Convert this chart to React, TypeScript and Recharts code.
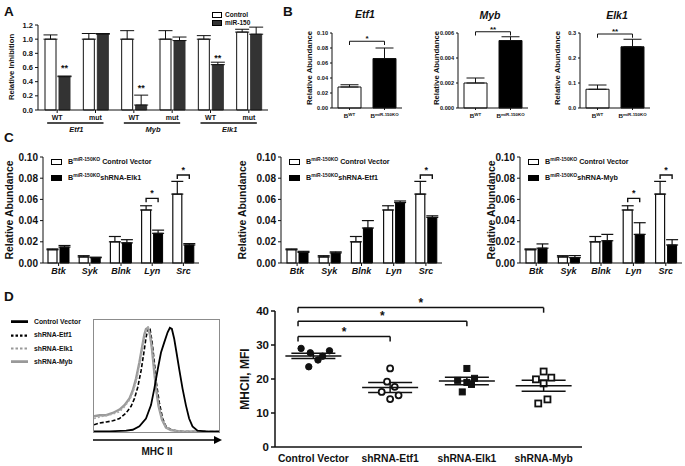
import React from 'react'
import {
  Bar,
  BarChart,
  Cell,
  ErrorBar,
  LabelList,
  Line,
  LineChart,
  ReferenceLine,
  Scatter,
  ScatterChart,
  XAxis,
  YAxis,
} from 'recharts'

const FONT = '"Liberation Sans", Arial, sans-serif'
const INK = '#111'

// ---------- A: reporter assay ----------
const aGenes = ['Etf1', 'Etf1', 'Myb', 'Myb', 'Elk1', 'Elk1']
const aSites = ['WT', 'mut', 'WT', 'mut', 'WT', 'mut']
const aControl = [1.0, 1.0, 1.0, 1.0, 1.0, 1.1]
const aControlErr = [0.06, 0.08, 0.12, 0.12, 0.05, 0.04]
const aMir = [0.47, 1.07, 0.07, 0.98, 0.64, 1.07]
const aMirErr = [0.01, 0.01, 0.14, 0.05, 0.035, 0.1]
const aStars = ['**', '', '**', '', '**', '']
const aStarLevel = [0.55, 0, 0.27, 0, 0.69, 0]
const aTicks = [0, 0.2, 0.4, 0.6, 0.8, 1.0, 1.2]

// ---------- B: WT vs KO ----------
const bGroups = ['WT', 'miR-150KO']
const bEtf1 = [0.028, 0.066]
const bEtf1Err = [0.003, 0.014]
const bMyb = [0.002, 0.0054]
const bMybErr = [0.0004, 0.0003]
const bElk1 = [0.075, 0.245]
const bElk1Err = [0.017, 0.03]
const bEtf1Ticks = [0, 0.02, 0.04, 0.06, 0.08, 0.1]
const bMybTicks = [0, 0.002, 0.004, 0.006]
const bElk1Ticks = [0, 0.1, 0.2, 0.3]

// ---------- C: target genes ----------
const cGenes = ['Btk', 'Syk', 'Blnk', 'Lyn', 'Src']
const cControl = [0.0125, 0.0057, 0.02, 0.05, 0.065]
const cControlErr = [0.0008, 0.0012, 0.005, 0.004, 0.012]
const cElk1 = [0.015, 0.005, 0.019, 0.028, 0.017]
const cElk1Err = [0.0015, 0.0005, 0.003, 0.003, 0.0013]
const cEtf1 = [0.01, 0.0095, 0.033, 0.057, 0.043]
const cEtf1Err = [0.001, 0.001, 0.007, 0.0015, 0.0015]
const cMyb = [0.014, 0.005, 0.021, 0.027, 0.017]
const cMybErr = [0.004, 0.002, 0.006, 0.011, 0.005]
const cElk1Brk = [0, 0, 0, 0.061, 0.083]
const cEtf1Brk = [0, 0, 0, 0, 0.083]
const cMybBrk = [0, 0, 0, 0.061, 0.083]
const cTicks = [0, 0.02, 0.04, 0.06, 0.08, 0.1]

// ---------- D: MHCII ----------
const dGroups = ['Control Vector', 'shRNA-Etf1', 'shRNA-Elk1', 'shRNA-Myb']
const dCtrl = [29.0, 27.7, 23.6, 25.6, 26.7, 28.3]
const dCtrlPos = [0.84, 0.96, 0.94, 1.06, 1.12, 1.21]
const dEtf1 = [23.1, 19.2, 16.2, 17.7, 15.2, 14.1]
const dEtf1Pos = [2.0, 1.96, 1.89, 2.06, 2.11, 2.0]
const dElk1 = [23.1, 19.6, 19.0, 20.2, 18.4, 16.2]
const dElk1Pos = [3.0, 2.88, 3.0, 3.1, 3.06, 2.94]
const dMyb = [22.2, 19.9, 20.4, 18.7, 14.0, 12.8]
const dMybPos = [4.0, 3.9, 4.1, 4.0, 4.05, 3.93]
const dMean = [26.8, 17.5, 19.4, 18.0]
const dSem = [0.8, 1.45, 1.1, 1.6]
const dBrkLevel = [32.5, 37, 41]
const dBrkStart = 0.8
const dTicks = [0, 10, 20, 30, 40]

// flow histogram (x = position along MHC II axis, y = % of box height)
const hCtrlX = [0, 12.5, 25.7, 31, 36.3, 41.6, 45.6, 48.3, 51, 53.6, 56.2, 58.9, 60.7, 62.3, 64.2, 66, 68.2, 70.8, 73.5, 76.1, 78.8, 82.8, 89.4, 100]
const hCtrlY = [0.6, 0.6, 1.2, 2, 5, 12, 24, 39, 56, 71, 80, 89, 93, 92, 83, 71, 56, 39, 24, 12, 5, 1.2, 0.6, 0.3]
const hEtf1X = [0, 4.5, 9.8, 15, 20.4, 25.7, 29.7, 32.4, 35, 37.7, 39.5, 41.6, 43.2, 44.8, 46.4, 48.3, 50.1, 52.3, 54.9, 57.6, 61.5, 68.2, 78.8, 100]
const hEtf1Y = [6.5, 8, 9, 10, 12, 17, 23, 30, 40, 55, 68, 84, 93, 92, 81, 62, 42, 26, 12, 5, 2, 0.6, 0.3, 0.3]
const hElk1X = [0, 4.5, 9.8, 15, 20.4, 24.4, 28.4, 31, 33.7, 36.3, 38.5, 40.3, 42, 43.5, 45, 46.7, 48.3, 50, 52.1, 54.6, 57.8, 61.5, 68.2, 100]
const hElk1Y = [12, 13.5, 14.7, 16, 18, 22.6, 28.5, 35, 45, 59, 73, 85, 92, 93, 86, 72, 55, 37, 22, 10, 4, 1.8, 0.6, 0.3]
const hMybX = [0, 4.5, 9.8, 15, 20.4, 24.4, 28.4, 31, 33.7, 36.3, 38.5, 40.3, 41.6, 43.2, 44.8, 46.4, 48, 49.6, 51.7, 54.4, 57.6, 61.5, 68.2, 100]
const hMybY = [14, 15, 15, 17, 20, 24, 30, 37, 48, 62, 76, 87, 92, 93, 87, 74, 56, 39, 23, 11, 4, 1.8, 0.6, 0.3]

// ---------- layout (page pixels) ----------
type Plot = { x0: number; y0: number; x1: number; y1: number }
const A_PLOT: Plot = { x0: 38, y0: 25, x1: 268, y1: 110 }
const B_PLOTS: Plot[] = [
  { x0: 332, y0: 33, x1: 402, y1: 108 },
  { x0: 458, y0: 33, x1: 528, y1: 108 },
  { x0: 580, y0: 33, x1: 650, y1: 108 },
]
const C_PLOTS: Plot[] = [
  { x0: 43, y0: 157, x1: 199, y1: 263 },
  { x0: 281, y0: 157, x1: 442, y1: 263 },
  { x0: 520, y0: 157, x1: 682, y1: 263 },
]
const D_PLOT: Plot = { x0: 275, y0: 311, x1: 582, y1: 447 }
const H_BOX: Plot = { x0: 93, y0: 319, x1: 220, y1: 433 }

const axisStyle = { stroke: INK, strokeWidth: 1 }
const font = (size: number, extra: any = {}) => ({ fontSize: size, fontWeight: 700, fill: INK, fontFamily: FONT, ...extra })

const readBox = (p: any) => {
  const vb = p.viewBox ?? p
  return { x: Number(vb.x), y: Number(vb.y), width: Number(vb.width), height: Number(vb.height) }
}

function Txt({ x, y, size, children, italic = false, rotate = false, align = 'center', weight = 700 }: any) {
  const tx = align === 'center' ? '-50%' : '0'
  return (
    <div
      style={{
        position: 'absolute',
        left: x,
        top: y,
        transform: `translate(${tx}, -50%)${rotate ? ' rotate(-90deg)' : ''}`,
        fontSize: size,
        fontWeight: weight,
        fontStyle: italic ? 'italic' : 'normal',
        whiteSpace: 'nowrap',
        lineHeight: 1,
        color: INK,
      }}
    >
      {children}
    </div>
  )
}

// ---------- panel A ----------
const A_BAND = (A_PLOT.x1 - A_PLOT.x0) / aSites.length

function ATick(p: any) {
  const { x, y } = p
  const i = p.index ?? p.payload?.index ?? 0
  return (
    <g>
      <text x={x} y={y + 5} textAnchor="middle" {...font(7)}>{aSites[i]}</text>
      {i % 2 === 0 && (
        <g>
          <line x1={x - 10} x2={x + A_BAND + 8} y1={y + 8} y2={y + 8} stroke={INK} strokeWidth={1.3} />
          <text x={x + A_BAND / 2} y={y + 17} textAnchor="middle" {...font(7.5, { fontStyle: 'italic' })}>{aGenes[i]}</text>
        </g>
      )}
    </g>
  )
}

function PanelA() {
  const data = aSites.map((s, i) => ({
    key: `${aGenes[i]}-${s}`,
    ctrl: aControl[i],
    mir: aMir[i],
    ctrlErr: [0, aControlErr[i]],
    mirErr: [0, aMirErr[i]],
    star: aStars[i],
    level: aStarLevel[i],
  }))
  const L = 30, T = 6, R = 4, B = 30
  const starLabel = (p: any) => {
    const d = data[p.index]
    if (!d || !d.star) return null
    const { x, y, width, height } = readBox(p)
    const yy = y + height - (d.level / d.mir) * height
    return <text x={x + width / 2} y={yy} textAnchor="middle" {...font(9)}>{d.star}</text>
  }
  return (
    <div style={{ position: 'absolute', left: A_PLOT.x0 - L, top: A_PLOT.y0 - T }}>
      <BarChart
        width={A_PLOT.x1 - A_PLOT.x0 + L + R}
        height={A_PLOT.y1 - A_PLOT.y0 + T + B}
        data={data}
        margin={{ top: T, right: R, bottom: 0, left: 0 }}
        barGap={3}
      >
        <XAxis dataKey="key" height={B} interval={0} tickSize={3} axisLine={axisStyle} tickLine={axisStyle} tick={(p: any) => <ATick {...p} />} />
        <YAxis width={L} domain={[0, 1.2]} ticks={aTicks} interval={0} tickSize={3} axisLine={axisStyle} tickLine={axisStyle} tickFormatter={(v: number) => v.toFixed(1)} tick={font(7.5)} />
        <Bar dataKey="ctrl" barSize={11} fill="#fff" stroke={INK} strokeWidth={1} isAnimationActive={false}>
          <ErrorBar dataKey="ctrlErr" width={7} stroke={INK} strokeWidth={1} />
        </Bar>
        <Bar dataKey="mir" barSize={11} fill="#333" stroke="#333" strokeWidth={1} isAnimationActive={false}>
          <ErrorBar dataKey="mirErr" width={7} stroke={INK} strokeWidth={1} />
          <LabelList dataKey="star" content={starLabel} />
        </Bar>
      </BarChart>
    </div>
  )
}

// ---------- panel B ----------
function BTick(p: any) {
  const { x, y } = p
  const i = p.index ?? 0
  return (
    <text x={x} y={y + 6} textAnchor="middle" fontSize={6.2} fontWeight={600} fill={INK} fontFamily={FONT}>
      B<tspan dy={-2.5} fontSize={4.4}>{bGroups[i]}</tspan>
    </text>
  )
}

function PanelB({ plot, values, errs, ticks, digits, sig, level, drop }: any) {
  const data = bGroups.map((g, i) => ({ g, v: values[i], e: [0, errs[i]] }))
  const L = 26, T = 14, R = 4, B = 14
  const top = ticks[ticks.length - 1]
  const line = { stroke: INK, strokeWidth: 1, ifOverflow: 'visible' as const }
  return (
    <div style={{ position: 'absolute', left: plot.x0 - L, top: plot.y0 - T }}>
      <BarChart width={plot.x1 - plot.x0 + L + R} height={plot.y1 - plot.y0 + T + B} data={data} margin={{ top: T, right: R, bottom: 0, left: 0 }}>
        <XAxis dataKey="g" height={B} interval={0} tickSize={2} axisLine={axisStyle} tickLine={axisStyle} tick={(p: any) => <BTick {...p} />} />
        <YAxis width={L} domain={[0, top]} ticks={ticks} interval={0} tickSize={2} axisLine={axisStyle} tickLine={axisStyle} tickFormatter={(v: number) => v.toFixed(digits)} tick={font(5.6, { fontWeight: 600 })} />
        <Bar dataKey="v" barSize={23} stroke={INK} strokeWidth={1} isAnimationActive={false}>
          {data.map((d, i) => (
            <Cell key={d.g} fill={i === 0 ? '#fff' : '#000'} />
          ))}
          <ErrorBar dataKey="e" width={9} stroke={INK} strokeWidth={1} />
        </Bar>
        <ReferenceLine
          segment={[{ x: bGroups[0], y: level }, { x: bGroups[1], y: level }]}
          {...line}
          label={{ value: sig, position: 'top', offset: 0, fontSize: 8, fontWeight: 700, fill: INK }}
        />
        <ReferenceLine segment={[{ x: bGroups[0], y: level }, { x: bGroups[0], y: level - drop }]} {...line} />
        <ReferenceLine segment={[{ x: bGroups[1], y: level }, { x: bGroups[1], y: level - drop }]} {...line} />
      </BarChart>
    </div>
  )
}

// ---------- panel C ----------
const C_GAP = 3

function PanelC({ plot, treat, treatErr, brk, name }: any) {
  const data = cGenes.map((g, i) => ({
    g,
    ctrl: cControl[i],
    trt: treat[i],
    ctrlErr: [0, cControlErr[i]],
    trtErr: [0, treatErr[i]],
    brk: brk[i],
  }))
  const L = 36, T = 4, R = 3, B = 18
  const bracket = (p: any) => {
    const d = data[p.index]
    if (!d || !d.brk) return null
    const { x, y, width, height } = readBox(p)
    const yl = y + height - (d.brk / d.ctrl) * height
    const c1 = x + width / 2
    const c2 = c1 + width + C_GAP
    return (
      <g>
        <path d={`M${c1},${yl + 4}V${yl}H${c2}V${yl + 4}`} fill="none" stroke={INK} strokeWidth={1.4} />
        <text x={(c1 + c2) / 2} y={yl - 2} textAnchor="middle" {...font(9)}>*</text>
      </g>
    )
  }
  return (
    <div style={{ position: 'absolute', left: plot.x0 - L, top: plot.y0 - T }}>
      <BarChart width={plot.x1 - plot.x0 + L + R} height={plot.y1 - plot.y0 + T + B} data={data} margin={{ top: T, right: R, bottom: 0, left: 0 }} barGap={C_GAP}>
        <XAxis dataKey="g" height={B} interval={0} tickSize={3} axisLine={axisStyle} tickLine={axisStyle} tick={font(9, { fontStyle: 'italic' })} />
        <YAxis width={L} domain={[0, 0.1]} ticks={cTicks} interval={0} tickSize={3} axisLine={axisStyle} tickLine={axisStyle} tickFormatter={(v: number) => v.toFixed(2)} tick={font(10)} />
        <Bar dataKey="ctrl" barSize={9} fill="#fff" stroke={INK} strokeWidth={1.2} isAnimationActive={false}>
          <ErrorBar dataKey="ctrlErr" width={6} stroke={INK} strokeWidth={1.2} />
          <LabelList dataKey="brk" content={bracket} />
        </Bar>
        <Bar dataKey="trt" barSize={9} fill="#000" stroke="#000" isAnimationActive={false}>
          <ErrorBar dataKey="trtErr" width={6} stroke={INK} strokeWidth={1.2} />
        </Bar>
      </BarChart>
      <CLegend left={L + 8} top={T} name={name} />
    </div>
  )
}

function CLegend({ left, top, name }: any) {
  const row = (fill: string, label: string, y: number) => (
    <div style={{ position: 'absolute', left, top: top + y, display: 'flex', alignItems: 'center', whiteSpace: 'nowrap', fontSize: 7.2, fontWeight: 700, lineHeight: 1 }}>
      <span style={{ display: 'inline-block', width: 9, height: 4, border: '1.3px solid #000', background: fill, marginRight: 6 }} />
      <span>
        B<sup style={{ fontSize: 5, verticalAlign: 'super', lineHeight: 0 }}>miR-150KO</sup>
        {label}
      </span>
    </div>
  )
  return (
    <>
      {row('#fff', ' Control Vector', 1)}
      {row('#000', name, 17)}
    </>
  )
}

// ---------- panel D ----------
const pts = (vals: number[], pos: number[]) => vals.map((y, i) => ({ x: pos[i], y }))

const shapeOf = (kind: 'circle' | 'square', filled: boolean) => (p: any) => {
  const { cx, cy } = p
  const common = { fill: filled ? INK : '#fff', stroke: INK, strokeWidth: filled ? 1 : 1.8 }
  if (kind === 'circle') return <circle cx={cx} cy={cy} r={filled ? 3.2 : 3} {...common} />
  return <rect x={cx - 3} y={cy - 3} width={6} height={6} {...common} />
}

function PanelD() {
  const L = 34, T = 16, R = 6, B = 20
  const means = dMean.map((y, i) => ({ x: i + 1, y, sem: dSem[i] }))
  const meanShape = (p: any) => <line x1={p.cx - 28} x2={p.cx + 28} y1={p.cy} y2={p.cy} stroke={INK} strokeWidth={1.5} />
  const line = { stroke: INK, strokeWidth: 1.5, ifOverflow: 'visible' as const }
  return (
    <div style={{ position: 'absolute', left: D_PLOT.x0 - L, top: D_PLOT.y0 - T }}>
      <ScatterChart width={D_PLOT.x1 - D_PLOT.x0 + L + R} height={D_PLOT.y1 - D_PLOT.y0 + T + B} margin={{ top: T, right: R, bottom: 0, left: 0 }}>
        <XAxis
          type="number"
          dataKey="x"
          domain={[0.5, 4.5]}
          ticks={[1, 2, 3, 4]}
          interval={0}
          tickFormatter={(v: number) => dGroups[v - 1]}
          tickLine={false}
          axisLine={{ stroke: INK, strokeWidth: 1.5 }}
          height={B}
          tick={font(10.3)}
        />
        <YAxis type="number" dataKey="y" domain={[0, 40]} ticks={dTicks} interval={0} width={L} tickSize={4} axisLine={{ stroke: INK, strokeWidth: 1.5 }} tickLine={{ stroke: INK, strokeWidth: 1.5 }} tick={font(11.5)} />
        <Scatter data={pts(dCtrl, dCtrlPos)} shape={shapeOf('circle', true)} isAnimationActive={false} />
        <Scatter data={pts(dEtf1, dEtf1Pos)} shape={shapeOf('circle', false)} isAnimationActive={false} />
        <Scatter data={pts(dElk1, dElk1Pos)} shape={shapeOf('square', true)} isAnimationActive={false} />
        <Scatter data={pts(dMyb, dMybPos)} shape={shapeOf('square', false)} isAnimationActive={false} />
        <Scatter data={means} shape={meanShape} isAnimationActive={false}>
          <ErrorBar dataKey="sem" direction="y" width={22} stroke={INK} strokeWidth={1.5} />
        </Scatter>
        {dBrkLevel.map((lvl, i) => (
          <ReferenceLine
            key={`h${i}`}
            segment={[{ x: dBrkStart, y: lvl }, { x: i + 2, y: lvl }]}
            {...line}
            label={{ value: '*', position: 'top', offset: 1, fontSize: 12, fontWeight: 700, fill: INK }}
          />
        ))}
        {dBrkLevel.map((lvl, i) => (
          <ReferenceLine key={`l${i}`} segment={[{ x: dBrkStart, y: lvl }, { x: dBrkStart, y: lvl - 1.5 }]} {...line} />
        ))}
        {dBrkLevel.map((lvl, i) => (
          <ReferenceLine key={`r${i}`} segment={[{ x: i + 2, y: lvl }, { x: i + 2, y: lvl - 1.5 }]} {...line} />
        ))}
      </ScatterChart>
    </div>
  )
}

const hist = (xs: number[], ys: number[]) => xs.map((x, i) => ({ x, y: ys[i] }))

function Histogram() {
  const w = H_BOX.x1 - H_BOX.x0
  const h = H_BOX.y1 - H_BOX.y0
  return (
    <>
      <div style={{ position: 'absolute', left: H_BOX.x0, top: H_BOX.y0, width: w, height: h, border: '1.5px solid #8c8c8c', boxSizing: 'border-box' }} />
      <div style={{ position: 'absolute', left: H_BOX.x0 + 1, top: H_BOX.y0 + 1 }}>
        <LineChart width={w - 2} height={h - 2} margin={{ top: 0, right: 0, bottom: 0, left: 0 }}>
          <XAxis type="number" dataKey="x" domain={[0, 100]} hide />
          <YAxis type="number" domain={[0, 100]} hide />
          <Line data={hist(hEtf1X, hEtf1Y)} dataKey="y" stroke="#000" strokeWidth={1.6} strokeDasharray="4 2" dot={false} isAnimationActive={false} />
          <Line data={hist(hMybX, hMybY)} dataKey="y" stroke="#9a9a9a" strokeWidth={2.4} dot={false} isAnimationActive={false} />
          <Line data={hist(hElk1X, hElk1Y)} dataKey="y" stroke="#aaa" strokeWidth={1.6} strokeDasharray="2 2" dot={false} isAnimationActive={false} />
          <Line data={hist(hCtrlX, hCtrlY)} dataKey="y" stroke="#000" strokeWidth={1.8} dot={false} isAnimationActive={false} />
        </LineChart>
      </div>
      <svg style={{ position: 'absolute', left: H_BOX.x0, top: H_BOX.y1 + 3 }} width={w + 2} height={8}>
        <line x1={0} y1={4} x2={w - 5} y2={4} stroke="#000" strokeWidth={1.5} />
        <polygon points={`${w - 6},0 ${w + 2},4 ${w - 6},8`} fill="#000" />
      </svg>
    </>
  )
}

function DLegend() {
  const items = [
    { label: 'Control Vector', stroke: '#000', dash: '', sw: 2.6 },
    { label: 'shRNA-Etf1', stroke: '#000', dash: '2.5 2', sw: 2.4 },
    { label: 'shRNA-Elk1', stroke: '#999', dash: '2.5 2', sw: 2 },
    { label: 'shRNA-Myb', stroke: '#999', dash: '', sw: 2.6 },
  ]
  return (
    <>
      {items.map((it, i) => (
        <div key={it.label} style={{ position: 'absolute', left: 11, top: 322 + i * 13.3, display: 'flex', alignItems: 'center', fontSize: 6.8, fontWeight: 700, whiteSpace: 'nowrap', lineHeight: 1, transform: 'translateY(-50%)' }}>
          <svg width={17} height={4} style={{ marginRight: 6 }}>
            <line x1={0} y1={2} x2={17} y2={2} stroke={it.stroke} strokeWidth={it.sw} strokeDasharray={it.dash || undefined} />
          </svg>
          {it.label}
        </div>
      ))}
    </>
  )
}

export default function App() {
  return (
    <div style={{ position: 'absolute', left: 0, top: 0, width: 685, height: 466, background: '#fff', fontFamily: FONT, color: INK, overflow: 'hidden' }}>
      {/* panel letters */}
      <Txt x={4} y={12} size={13.5} align="left">A</Txt>
      <Txt x={283} y={12} size={13.5} align="left">B</Txt>
      <Txt x={4} y={138} size={13.5} align="left">C</Txt>
      <Txt x={4} y={297} size={13.5} align="left">D</Txt>

      {/* A */}
      <Txt x={12} y={67} size={7.7} rotate>Relative Inhibition</Txt>
      <PanelA />
      <div style={{ position: 'absolute', left: 212, top: 11, fontSize: 6.5, fontWeight: 700, lineHeight: '8px' }}>
        {['Control', 'miR-150'].map((t, i) => (
          <div key={t} style={{ display: 'flex', alignItems: 'center' }}>
            <span style={{ display: 'inline-block', width: 8, height: 4, border: '1px solid #000', background: i ? '#333' : '#fff', marginRight: 3 }} />
            {t}
          </div>
        ))}
      </div>

      {/* B */}
      <Txt x={365} y={14} size={10.5} italic>Etf1</Txt>
      <Txt x={490} y={15} size={10.5} italic>Myb</Txt>
      <Txt x={617} y={15} size={10.5} italic>Elk1</Txt>
      <Txt x={310} y={68} size={7.8} rotate>Relative Abundance</Txt>
      <Txt x={437} y={68} size={7.8} rotate>Relative Abundance</Txt>
      <Txt x={558} y={68} size={7.8} rotate>Relative Abundance</Txt>
      <PanelB plot={B_PLOTS[0]} values={bEtf1} errs={bEtf1Err} ticks={bEtf1Ticks} digits={2} sig="*" level={0.089} drop={0.005} />
      <PanelB plot={B_PLOTS[1]} values={bMyb} errs={bMybErr} ticks={bMybTicks} digits={3} sig="**" level={0.0061} drop={0.0003} />
      <PanelB plot={B_PLOTS[2]} values={bElk1} errs={bElk1Err} ticks={bElk1Ticks} digits={1} sig="**" level={0.296} drop={0.015} />

      {/* C */}
      <Txt x={10} y={210} size={10.4} rotate>Relative Abundance</Txt>
      <Txt x={243} y={210} size={10.4} rotate>Relative Abundance</Txt>
      <Txt x={492} y={210} size={10.4} rotate>Relative Abundance</Txt>
      <PanelC plot={C_PLOTS[0]} treat={cElk1} treatErr={cElk1Err} brk={cElk1Brk} name="shRNA-Elk1" />
      <PanelC plot={C_PLOTS[1]} treat={cEtf1} treatErr={cEtf1Err} brk={cEtf1Brk} name="shRNA-Etf1" />
      <PanelC plot={C_PLOTS[2]} treat={cMyb} treatErr={cMybErr} brk={cMybBrk} name="shRNA-Myb" />

      {/* D */}
      <DLegend />
      <Histogram />
      <Txt x={157} y={452} size={10}>MHC II</Txt>
      <Txt x={245} y={379} size={12} rotate>MHCII, MFI</Txt>
      <PanelD />
    </div>
  )
}
